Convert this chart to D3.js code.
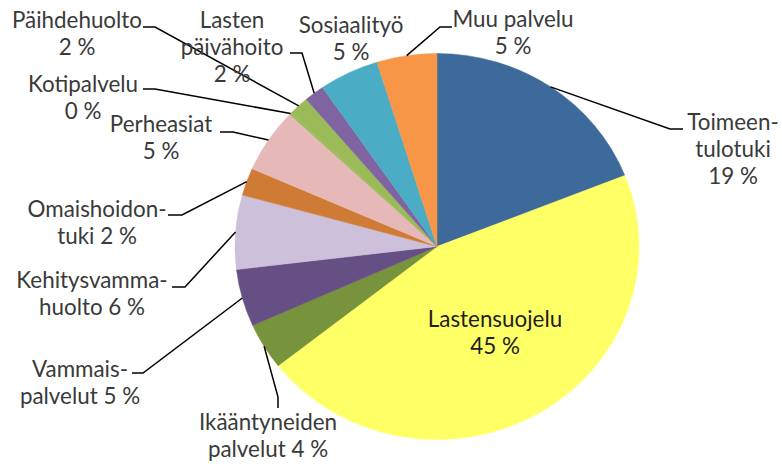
<!DOCTYPE html>
<html>
<head>
<meta charset="utf-8">
<script src="https://cdn.jsdelivr.net/npm/d3@7"></script>
<style>
  body { margin: 0; background: #fff; }
  svg { display: block; }
  text { font-family: Lato, "Open Sans", sans-serif; }
</style>
</head>
<body>
<div id="chart"></div>
<script>
// Slices, clockwise from 12 o'clock
const categories = [
  'Toimeentulotuki',
  'Lastensuojelu',
  'Ikääntyneiden palvelut',
  'Vammaispalvelut',
  'Kehitysvammahuolto',
  'Omaishoidontuki',
  'Perheasiat',
  'Kotipalvelu',
  'Päihdehuolto',
  'Lasten päivähoito',
  'Sosiaalityö',
  'Muu palvelu',
];

const values = [19.0, 45.4, 3.9, 4.8, 6.2, 2.3, 5.4, 0.2, 1.6, 1.6, 4.8, 4.8];

// How each label is broken into lines, {p} = percentage
const labelLines = [
  ['Toimeen-', 'tulotuki', '{p}'],
  ['Lastensuojelu', '{p}'],
  ['Ikääntyneiden', 'palvelut {p}'],
  ['Vammais-', 'palvelut {p}'],
  ['Kehitysvamma-', 'huolto {p}'],
  ['Omaishoidon-', 'tuki {p}'],
  ['Perheasiat', '{p}'],
  ['Kotipalvelu', '{p}'],
  ['Päihdehuolto', '{p}'],
  ['Lasten', 'päivähoito', '{p}'],
  ['Sosiaalityö', '{p}'],
  ['Muu palvelu', '{p}'],
];

const colors = [
  '#3E6A9B',
  '#FFFF66',
  '#77933C',
  '#664F85',
  '#CCC0DA',
  '#CF7B36',
  '#E6B9B8',
  '#9BBB59',
  '#9BBB59',
  '#8064A2',
  '#4BACC6',
  '#F79646',
];

let config = {
  w: 782,
  h: 464,
  cx: 437,
  cy: 246.5,
  rx: 202,
  ry: 193,
  fontSize: 22.4,
  lineH: 27,
};

// label block position (centre x, first baseline) and leader elbow/stub
const labelLayout = [
  { x: 733, y: 130, leader: [[670, 129], [683, 129]] },
  { x: 495, y: 327, leader: null },
  { x: 268, y: 430, leader: [[278, 397], [278, 408]] },
  { x: 80, y: 377, leader: [[143, 373], [132, 373]] },
  { x: 92, y: 288, leader: [[185, 287], [172, 287]] },
  { x: 97, y: 217, leader: [[182, 215], [168, 215]] },
  { x: 161, y: 132, leader: [[233, 132], [220, 132]] },
  { x: 83, y: 92, leader: [[155, 89], [143, 89]] },
  { x: 77, y: 28, leader: [[155, 27], [143, 27]] },
  { x: 232, y: 28, leader: [[302, 53], [290, 53]] },
  { x: 351, y: 33, leader: null },
  { x: 513, y: 27, leader: [[440, 27], [452, 27]] },
];

const data = categories.map((c, i) => ({ name: c, value: values[i], i: i }));
const total = d3.sum(values);
const fmt = d3.format('.0f');

let svg = d3
  .select('#chart')
  .append('svg')
  .attr('width', config.w)
  .attr('height', config.h);

const pie = d3.pie().sort(null).value((d) => d.value);
const arcs = pie(data);

// draw with radius ry then stretch to the ellipse of the original
const arc = d3.arc().innerRadius(0).outerRadius(config.ry);

svg
  .append('g')
  .attr(
    'transform',
    `translate(${config.cx},${config.cy}) scale(${config.rx / config.ry},1)`,
  )
  .selectAll('path')
  .data(arcs)
  .enter()
  .append('path')
  .attr('d', arc)
  .style('fill', (d) => colors[d.data.i])
  .style('stroke', (d) => colors[d.data.i])
  .style('stroke-width', 0.5);

// Leader lines: slice mid angle on the rim -> elbow -> stub at the label
function rimPoint(d) {
  let a = (d.startAngle + d.endAngle) / 2;
  return [config.cx + config.rx * Math.sin(a), config.cy - config.ry * Math.cos(a)];
}

svg
  .append('g')
  .selectAll('path')
  .data(arcs.filter((d) => labelLayout[d.data.i].leader))
  .enter()
  .append('path')
  .attr('d', (d) => d3.line()([rimPoint(d)].concat(labelLayout[d.data.i].leader)))
  .style('fill', 'none')
  .style('stroke', '#000')
  .style('stroke-width', 1.5);

// Labels
let labels = svg
  .append('g')
  .selectAll('text')
  .data(arcs)
  .enter()
  .append('text')
  .attr('text-anchor', 'middle')
  .attr('font-size', config.fontSize)
  .style('fill', (d) => (d.data.i === 1 ? '#1e1e1e' : '#3a3a3a'));

labels
  .selectAll('tspan')
  .data((d) => {
    let p = fmt((d.data.value / total) * 100) + '\u00a0%';
    return labelLines[d.data.i].map((t, k) => ({
      t: t.replace('{p}', p),
      k: k,
      l: labelLayout[d.data.i],
    }));
  })
  .enter()
  .append('tspan')
  .attr('x', (d) => d.l.x)
  .attr('y', (d) => d.l.y + d.k * config.lineH)
  .text((d) => d.t);
</script>
</body>
</html>
